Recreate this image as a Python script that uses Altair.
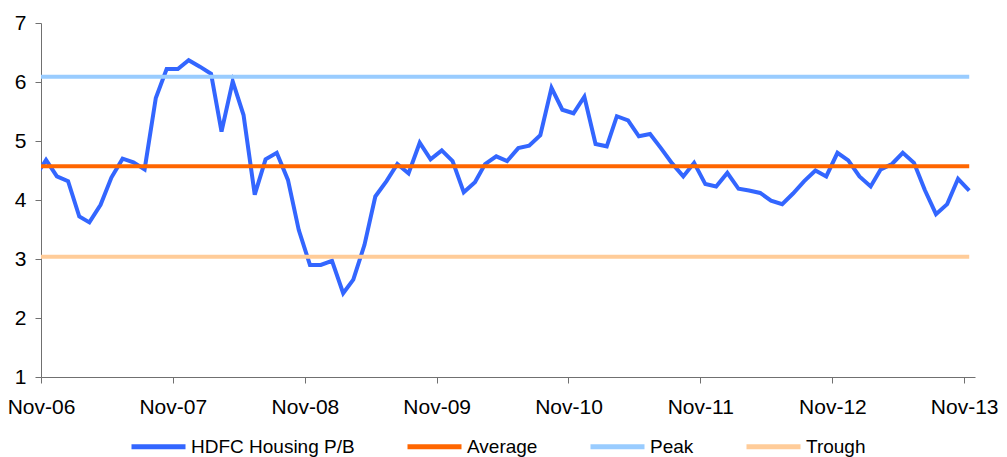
import altair as alt
import pandas as pd

# Monthly dates (mid-month points); first point Oct-06 is clipped at the axis
months = pd.date_range("2006-10-01", "2013-11-01", freq="MS")
dates = [(m + pd.Timedelta(days=14)).strftime("%Y-%m-%d") for m in months]

pb_values = [
    4.38,                                                   # Oct-06
    4.68, 4.40, 4.32, 3.72, 3.62, 3.92, 4.38, 4.70, 4.64, 4.52, 5.73, 6.22,  # Nov-06..Oct-07
    6.22, 6.37, 6.26, 6.14, 5.16, 6.01, 5.44, 4.09, 4.69, 4.80, 4.34, 3.49,  # Nov-07..Oct-08
    2.90, 2.90, 2.97, 2.42, 2.65, 3.24, 4.06, 4.32, 4.61, 4.45, 4.97, 4.69,  # Nov-08..Oct-09
    4.84, 4.66, 4.13, 4.30, 4.61, 4.74, 4.66, 4.88, 4.92, 5.10, 5.90, 5.53,  # Nov-09..Oct-10
    5.47, 5.75, 4.95, 4.91, 5.42, 5.35, 5.08, 5.12, 4.88, 4.62, 4.40, 4.63,  # Nov-10..Oct-11
    4.27, 4.23, 4.46, 4.19, 4.16, 4.12, 3.99, 3.93, 4.11, 4.32, 4.50, 4.40,  # Nov-11..Oct-12
    4.80, 4.67, 4.40, 4.23, 4.52, 4.61, 4.80, 4.63, 4.17, 3.76, 3.93, 4.36,  # Nov-12..Oct-13
    4.16,                                                   # Nov-13
]

average_value = 4.57
peak_value = 6.09
trough_value = 3.04

series_names = ["HDFC Housing P/B", "Average", "Peak", "Trough"]
series_colors = ["#3366FF", "#FF6600", "#99CCFF", "#FFCC99"]

tick_dates = ["2006-11-01", "2007-11-01", "2008-11-01", "2009-11-01",
              "2010-11-01", "2011-11-01", "2012-11-01", "2013-11-01"]
y_ticks = [1, 2, 3, 4, 5, 6, 7]


def ms(s):
    return int(pd.Timestamp(s, tz="UTC").value // 10**6)


pb_df = pd.DataFrame({"date": dates, "value": pb_values, "series": series_names[0]})
ref_rows = []
for name, v in zip(series_names[1:], [average_value, peak_value, trough_value]):
    for d in dates:
        ref_rows.append({"date": d, "value": v, "series": name})
ref_df = pd.DataFrame(ref_rows)

FONT = "Liberation Sans"

x_enc = alt.X(
    "date:T",
    scale=alt.Scale(type="utc", domain=[ms("2006-11-01"), ms("2013-12-01")]),
    axis=alt.Axis(
        values=[ms(t) for t in tick_dates],
        labelExpr="utcFormat(datum.value, '%b-%y')",
        title=None,
        grid=False,
        tickSize=6,
        labelPadding=13,
        labelFontSize=21,
        labelFont=FONT,
        labelColor="#000000",
        domainColor="#707070",
        tickColor="#707070",
        labelOverlap=False,
        labelFlush=False,
    ),
)
y_enc = alt.Y(
    "value:Q",
    scale=alt.Scale(domain=[1, 7], nice=False, zero=False),
    axis=alt.Axis(
        values=y_ticks,
        title=None,
        grid=False,
        tickSize=6,
        labelPadding=9,
        labelFontSize=21,
        labelFont=FONT,
        labelColor="#000000",
        domainColor="#707070",
        tickColor="#707070",
    ),
)
color_enc = alt.Color(
    "series:N",
    scale=alt.Scale(domain=series_names, range=series_colors),
    legend=alt.Legend(
        title=None,
        orient="none",
        direction="horizontal",
        legendX=88,
        legendY=394,
        symbolType="stroke",
        symbolSize=2916,
        symbolStrokeWidth=5,
        labelFontSize=19,
        labelFont=FONT,
        labelColor="#000000",
        labelOffset=3,
        labelLimit=400,
        columnPadding=42,
    ),
)

pb_line = alt.Chart(pb_df).mark_line(strokeWidth=4, clip=True).encode(
    x=x_enc, y=y_enc, color=color_enc
)
ref_lines = alt.Chart(ref_df).mark_line(strokeWidth=4, clip=True).encode(
    x=x_enc, y=y_enc, color=color_enc, detail="series:N"
)

chart = alt.layer(pb_line, ref_lines).properties(
    width=934,
    height=354,
    autosize=alt.AutoSizeParams(type="none"),
    padding={"left": 41, "top": 23, "right": 32, "bottom": 80},
    background="#FFFFFF",
).configure_view(stroke=None)

chart.save("out.html", embed_options={"renderer": "svg", "actions": False})
